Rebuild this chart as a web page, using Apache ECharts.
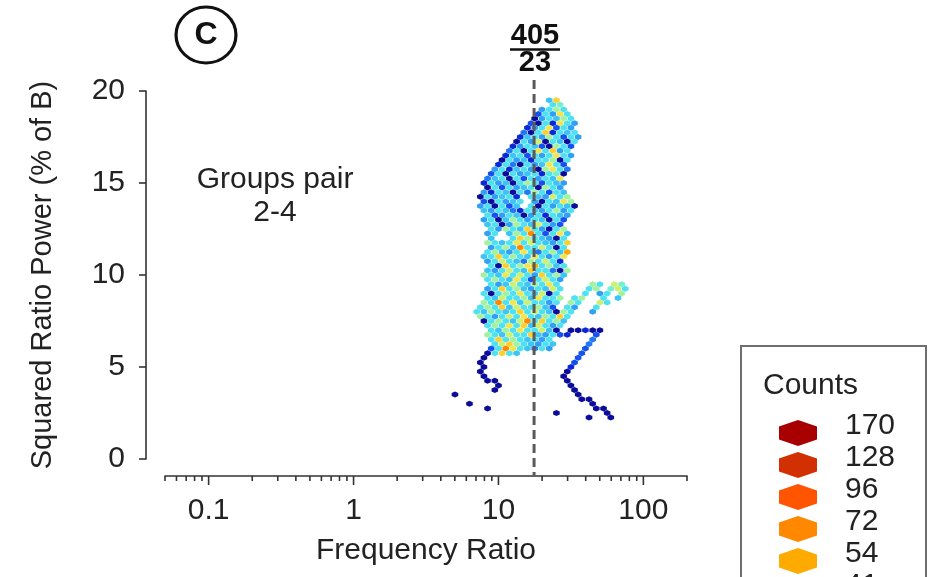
<!DOCTYPE html>
<html>
<head>
<meta charset="utf-8">
<script src="https://cdn.jsdelivr.net/npm/echarts@6/dist/echarts.min.js"></script>
<style>
html,body{margin:0;padding:0;background:#fff;}
#chart{width:935px;height:577px;}
</style>
</head>
<body>
<div id="chart"></div>
<script>
// ---------- data ----------
const yTicks = [0, 5, 10, 15, 20];
const xMajorTicks = [0.1, 1, 10, 100];
const xTickLabels = ['0.1', '1', '10', '100'];
const xMinorTicks = [0.05, 0.06, 0.07, 0.08, 0.09, 0.2, 0.3, 0.4, 0.5, 0.6, 0.7, 0.8, 0.9,
  2, 3, 4, 5, 6, 7, 8, 9, 20, 30, 40, 50, 60, 70, 80, 90, 200];
const refNumerator = 405;
const refDenominator = 23;
const panelLetter = 'C';
const groupLabel = ['Groups pair', '2-4'];
const countLevels = [1, 2, 3, 4, 5, 7, 10, 13, 17, 23, 31, 41, 54, 72, 96, 128, 170];
const countColors = ['#0c0c9a', '#0a28d8', '#1550f0', '#2078f4', '#2fa0f5', '#3cc4f5', '#4ee2f0',
  '#74f0d0', '#a4f2a0', '#cdf070', '#f0e650', '#fcd030', '#ffaa00', '#ff8800', '#ff5500', '#d23000', '#a80000'];
const legendCounts = [170, 128, 96, 72, 54, 41];

// hexbin cells: [frequency ratio, squared ratio power, count]
const hexCells = [
  [22.39,19.5,7],[25.12,19.5,41],
  [23.71,19.25,10],[26.61,19.25,13],
  [19.95,19,5],[22.39,19,10],[25.12,19,17],[28.18,19,10],
  [18.84,18.75,3],[21.13,18.75,10],[23.71,18.75,5],[26.61,18.75,31],[29.85,18.75,10],
  [17.78,18.5,1],[19.95,18.5,5],[22.39,18.5,10],[25.12,18.5,7],[28.18,18.5,17],[31.62,18.5,10],
  [16.79,18.25,3],[18.84,18.25,1],[21.13,18.25,10],[23.71,18.25,2],[26.61,18.25,31],[29.85,18.25,10],[33.50,18.25,5],
  [15.85,18,2],[17.78,18,5],[19.95,18,10],[22.39,18,31],[25.12,18,3],[28.18,18,10],[31.62,18,5],
  [14.96,17.75,4],[16.79,17.75,1],[18.84,17.75,10],[21.13,17.75,41],[23.71,17.75,2],[26.61,17.75,10],[29.85,17.75,7],[33.50,17.75,10],
  [14.13,17.5,2],[15.85,17.5,7],[17.78,17.5,10],[19.95,17.5,5],[22.39,17.5,17],[25.12,17.5,10],[28.18,17.5,3],[31.62,17.5,10],[35.48,17.5,5],
  [13.34,17.25,1],[14.96,17.25,10],[16.79,17.25,5],[18.84,17.25,23],[21.13,17.25,1],[23.71,17.25,10],[26.61,17.25,7],[29.85,17.25,1],[33.50,17.25,10],
  [12.59,17,2],[14.13,17,5],[15.85,17,10],[17.78,17,7],[19.95,17,3],[22.39,17,1],[25.12,17,17],[28.18,17,10],[31.62,17,3],
  [11.89,16.75,4],[13.34,16.75,10],[14.96,16.75,1],[16.79,16.75,10],[18.84,16.75,31],[21.13,16.75,10],[23.71,16.75,41],[26.61,16.75,5],[29.85,16.75,10],
  [11.22,16.5,2],[12.59,16.5,7],[14.13,16.5,10],[15.85,16.5,3],[17.78,16.5,10],[19.95,16.5,5],[22.39,16.5,10],[25.12,16.5,31],[28.18,16.5,10],[31.62,16.5,5],
  [10.59,16.25,1],[11.89,16.25,10],[13.34,16.25,5],[14.96,16.25,7],[16.79,16.25,2],[18.84,16.25,10],[21.13,16.25,10],[23.71,16.25,17],[26.61,16.25,1],[29.85,16.25,10],
  [10.0,16,2],[11.22,16,10],[12.59,16,4],[14.13,16,1],[15.85,16,10],[17.78,16,5],[19.95,16,7],[22.39,16,31],[25.12,16,10],[28.18,16,3],
  [9.44,15.75,5],[10.59,15.75,10],[11.89,15.75,2],[13.34,15.75,7],[14.96,15.75,10],[16.79,15.75,5],[18.84,15.75,1],[21.13,15.75,17],[23.71,15.75,31],[26.61,15.75,10],[29.85,15.75,4],
  [8.91,15.5,3],[10.0,15.5,10],[11.22,15.5,1],[12.59,15.5,10],[14.13,15.5,5],[15.85,15.5,7],[17.78,15.5,10],[19.95,15.5,2],[22.39,15.5,10],[25.12,15.5,13],[28.18,15.5,1],
  [8.41,15.25,4],[9.44,15.25,7],[10.59,15.25,10],[11.89,15.25,1],[13.34,15.25,10],[14.96,15.25,3],[16.79,15.25,10],[18.84,15.25,5],[21.13,15.25,10],[23.71,15.25,7],[26.61,15.25,31],
  [7.94,15,2],[8.91,15,10],[10.0,15,5],[11.22,15,7],[12.59,15,1],[14.13,15,10],[15.85,15,17],[17.78,15,10],[19.95,15,3],[22.39,15,10],[25.12,15,7],[28.18,15,5],
  [8.41,14.75,1],[9.44,14.75,10],[10.59,14.75,3],[11.89,14.75,10],[13.34,14.75,5],[14.96,14.75,7],[16.79,14.75,10],[18.84,14.75,1],[21.13,14.75,17],[23.71,14.75,10],[26.61,14.75,5],
  [7.94,14.5,5],[8.91,14.5,2],[10.0,14.5,10],[11.22,14.5,7],[12.59,14.5,1],[14.13,14.5,10],[15.85,14.5,4],[17.78,14.5,17],[19.95,14.5,10],[22.39,14.5,3],[25.12,14.5,10],[28.18,14.5,7],
  [7.50,14.25,1],[8.41,14.25,10],[9.44,14.25,5],[10.59,14.25,7],[11.89,14.25,10],[13.34,14.25,2],[16.79,14.25,10],[18.84,14.25,7],[21.13,14.25,5],[23.71,14.25,23],[26.61,14.25,10],[29.85,14.25,17],
  [7.94,14,3],[8.91,14,1],[10.0,14,10],[11.22,14,5],[12.59,14,7],[14.13,14,10],[17.78,14,5],[19.95,14,1],[22.39,14,10],[25.12,14,7],[28.18,14,31],[31.62,14,17],
  [7.50,13.75,5],[8.41,13.75,10],[9.44,13.75,1],[10.59,13.75,10],[11.89,13.75,3],[13.34,13.75,7],[16.79,13.75,10],[18.84,13.75,1],[21.13,13.75,10],[23.71,13.75,5],[26.61,13.75,10],[29.85,13.75,7],[33.50,13.75,1],
  [7.94,13.5,7],[8.91,13.5,5],[10.0,13.5,10],[11.22,13.5,7],[12.59,13.5,4],[14.13,13.5,2],[15.85,13.5,10],[17.78,13.5,7],[19.95,13.5,5],[22.39,13.5,10],[25.12,13.5,17],[28.18,13.5,5],[31.62,13.5,10],
  [8.41,13.25,10],[9.44,13.25,3],[10.59,13.25,5],[11.89,13.25,10],[13.34,13.25,7],[14.96,13.25,1],[16.79,13.25,5],[18.84,13.25,10],[21.13,13.25,2],[23.71,13.25,10],[26.61,13.25,7],[29.85,13.25,5],
  [7.94,13,5],[8.91,13,10],[10.0,13,1],[11.22,13,7],[12.59,13,17],[14.13,13,10],[15.85,13,5],[17.78,13,10],[19.95,13,7],[22.39,13,1],[25.12,13,10],[28.18,13,3],
  [8.41,12.75,7],[9.44,12.75,10],[10.59,12.75,1],[11.89,12.75,5],[13.34,12.75,17],[14.96,12.75,10],[16.79,12.75,7],[18.84,12.75,23],[21.13,12.75,10],[23.71,12.75,5],[26.61,12.75,3],
  [8.91,12.5,10],[10.0,12.5,5],[11.22,12.5,17],[12.59,12.5,10],[14.13,12.5,7],[15.85,12.5,41],[17.78,12.5,10],[19.95,12.5,5],[22.39,12.5,1],[25.12,12.5,10],[28.18,12.5,17],
  [8.41,12.25,5],[9.44,12.25,10],[11.89,12.25,7],[13.34,12.25,17],[14.96,12.25,10],[16.79,12.25,72],[18.84,12.25,10],[21.13,12.25,3],[23.71,12.25,10],[26.61,12.25,31],[29.85,12.25,7],
  [8.91,12,7],[12.59,12,10],[14.13,12,41],[15.85,12,17],[17.78,12,10],[19.95,12,7],[22.39,12,5],[25.12,12,1],[28.18,12,10],
  [8.41,11.75,17],[9.44,11.75,10],[10.59,11.75,7],[11.89,11.75,10],[13.34,11.75,31],[14.96,11.75,10],[16.79,11.75,23],[18.84,11.75,10],[21.13,11.75,7],[23.71,11.75,5],[26.61,11.75,10],[29.85,11.75,41],
  [8.91,11.5,5],[10.0,11.5,10],[11.22,11.5,17],[12.59,11.5,7],[14.13,11.5,72],[15.85,11.5,10],[17.78,11.5,10],[19.95,11.5,23],[22.39,11.5,10],[25.12,11.5,1],[28.18,11.5,10],
  [8.41,11.25,10],[9.44,11.25,17],[10.59,11.25,7],[11.89,11.25,5],[13.34,11.25,10],[14.96,11.25,31],[16.79,11.25,10],[18.84,11.25,4],[21.13,11.25,10],[23.71,11.25,17],[26.61,11.25,7],[29.85,11.25,54],
  [7.94,11,7],[8.91,11,10],[10.0,11,41],[11.22,11,10],[12.59,11,17],[14.13,11,10],[15.85,11,7],[17.78,11,31],[19.95,11,10],[22.39,11,5],[25.12,11,10],[28.18,11,31],
  [8.41,10.75,5],[9.44,10.75,10],[10.59,10.75,23],[11.89,10.75,10],[13.34,10.75,7],[14.96,10.75,4],[16.79,10.75,17],[18.84,10.75,10],[21.13,10.75,23],[23.71,10.75,10],[26.61,10.75,2],
  [8.91,10.5,10],[10.0,10.5,1],[11.22,10.5,41],[12.59,10.5,10],[14.13,10.5,17],[15.85,10.5,31],[17.78,10.5,54],[19.95,10.5,10],[22.39,10.5,17],[25.12,10.5,7],[28.18,10.5,10],
  [8.41,10.25,7],[9.44,10.25,5],[10.59,10.25,10],[11.89,10.25,23],[13.34,10.25,10],[14.96,10.25,7],[16.79,10.25,41],[18.84,10.25,10],[21.13,10.25,10],[23.71,10.25,4],[26.61,10.25,1],[29.85,10.25,17],
  [7.94,10,17],[8.91,10,10],[10.0,10,7],[11.22,10,31],[12.59,10,10],[14.13,10,23],[15.85,10,10],[17.78,10,5],[19.95,10,41],[22.39,10,10],[25.12,10,17],[28.18,10,7],
  [8.41,9.75,10],[9.44,9.75,17],[10.59,9.75,10],[11.89,9.75,7],[13.34,9.75,31],[14.96,9.75,10],[16.79,9.75,3],[18.84,9.75,10],[21.13,9.75,23],[23.71,9.75,10],[26.61,9.75,5],
  [8.91,9.5,10],[10.0,9.5,5],[11.22,9.5,7],[12.59,9.5,23],[14.13,9.5,10],[15.85,9.5,7],[17.78,9.5,17],[19.95,9.5,10],[22.39,9.5,31],[25.12,9.5,10],[44.67,9.5,17],[50.12,9.5,10],[63.10,9.5,23],[70.79,9.5,13],
  [8.41,9.25,5],[9.44,9.25,10],[10.59,9.25,41],[11.89,9.25,10],[13.34,9.25,17],[14.96,9.25,7],[16.79,9.25,5],[18.84,9.25,10],[21.13,9.25,7],[23.71,9.25,23],[26.61,9.25,10],[42.17,9.25,10],[47.32,9.25,17],[59.57,9.25,13],[66.83,9.25,23],[74.99,9.25,10],
  [7.94,9,10],[8.91,9,1],[10.0,9,10],[11.22,9,17],[12.59,9,10],[14.13,9,31],[15.85,9,10],[17.78,9,7],[19.95,9,23],[22.39,9,1],[25.12,9,10],[39.81,9,10],[50.12,9,5],[56.23,9,10],[70.79,9,17],
  [8.41,8.75,10],[9.44,8.75,7],[10.59,8.75,23],[11.89,8.75,10],[13.34,8.75,10],[14.96,8.75,17],[16.79,8.75,7],[18.84,8.75,31],[21.13,8.75,10],[23.71,8.75,10],[26.61,8.75,17],[33.50,8.75,10],[37.58,8.75,17],[53.09,8.75,10],[66.83,8.75,7],
  [7.94,8.5,17],[8.91,8.5,10],[10.0,8.5,72],[11.22,8.5,10],[12.59,8.5,31],[14.13,8.5,7],[15.85,8.5,23],[17.78,8.5,10],[19.95,8.5,10],[22.39,8.5,5],[25.12,8.5,10],[31.62,8.5,17],[35.48,8.5,10],[50.12,8.5,23],[56.23,8.5,10],
  [7.50,8.25,10],[8.41,8.25,17],[9.44,8.25,10],[10.59,8.25,41],[11.89,8.25,7],[13.34,8.25,23],[14.96,8.25,10],[16.79,8.25,10],[18.84,8.25,17],[21.13,8.25,7],[23.71,8.25,3],[29.85,8.25,10],[33.50,8.25,5],[47.32,8.25,10],
  [7.08,8,10],[7.94,8,7],[8.91,8,17],[10.0,8,10],[11.22,8,7],[12.59,8,10],[14.13,8,41],[15.85,8,10],[17.78,8,23],[19.95,8,10],[22.39,8,7],[25.12,8,1],[28.18,8,17],[31.62,8,10],[44.67,8,5],
  [7.50,7.75,17],[8.41,7.75,10],[9.44,7.75,5],[10.59,7.75,10],[11.89,7.75,23],[13.34,7.75,10],[14.96,7.75,31],[16.79,7.75,10],[18.84,7.75,7],[21.13,7.75,17],[23.71,7.75,10],[26.61,7.75,41],[29.85,7.75,10],
  [7.94,7.5,1],[8.91,7.5,10],[10.0,7.5,17],[11.22,7.5,10],[12.59,7.5,7],[14.13,7.5,23],[15.85,7.5,72],[17.78,7.5,10],[19.95,7.5,41],[22.39,7.5,10],[25.12,7.5,17],[28.18,7.5,7],
  [8.41,7.25,10],[9.44,7.25,17],[10.59,7.25,10],[11.89,7.25,31],[13.34,7.25,10],[14.96,7.25,41],[16.79,7.25,7],[18.84,7.25,23],[21.13,7.25,10],[23.71,7.25,5],[26.61,7.25,10],
  [8.91,7,10],[10.0,7,7],[11.22,7,17],[12.59,7,10],[14.13,7,31],[15.85,7,10],[17.78,7,10],[19.95,7,23],[22.39,7,7],[25.12,7,1],[31.62,7,1],[35.48,7,1],[39.81,7,2],[44.67,7,1],[50.12,7,1],
  [8.41,6.75,17],[9.44,6.75,10],[10.59,6.75,7],[11.89,6.75,23],[13.34,6.75,10],[14.96,6.75,10],[16.79,6.75,41],[18.84,6.75,7],[21.13,6.75,5],[23.71,6.75,10],[26.61,6.75,3],[29.85,6.75,2],[47.32,6.75,3],
  [8.91,6.5,10],[10.0,6.5,41],[11.22,6.5,10],[12.59,6.5,17],[14.13,6.5,10],[15.85,6.5,7],[17.78,6.5,10],[19.95,6.5,5],[22.39,6.5,10],[44.67,6.5,4],
  [9.44,6.25,10],[10.59,6.25,23],[11.89,6.25,41],[13.34,6.25,17],[14.96,6.25,10],[16.79,6.25,7],[18.84,6.25,5],[21.13,6.25,10],[23.71,6.25,7],[42.17,6.25,4],
  [8.91,6,3],[10.0,6,10],[11.22,6,72],[12.59,6,31],[14.13,6,10],[15.85,6,7],[17.78,6,4],[19.95,6,10],[22.39,6,5],[39.81,6,3],
  [8.41,5.75,1],[9.44,5.75,10],[10.59,5.75,41],[11.89,5.75,10],[13.34,5.75,7],[37.58,5.75,3],
  [7.94,5.5,1],[35.48,5.5,3],
  [7.50,5.25,1],[33.50,5.25,3],
  [7.94,5,1],[31.62,5,2],
  [7.50,4.75,1],[29.85,4.75,1],
  [7.94,4.5,1],[28.18,4.5,1],
  [8.41,4.25,1],[9.44,4.25,1],[29.85,4.25,1],
  [10.0,4,1],[31.62,4,1],
  [9.44,3.75,1],[33.50,3.75,1],
  [5.01,3.5,1],[35.48,3.5,1],
  [37.58,3.25,1],[42.17,3.25,1],
  [6.31,3,1],[44.67,3,1],
  [8.41,2.75,1],[47.32,2.75,1],[53.09,2.75,1],
  [25.12,2.5,1],[56.23,2.5,1],
  [42.17,2.25,1],[59.57,2.25,1]
];

// ---------- helpers ----------
const FONT = '"Liberation Sans", Arial, Helvetica, sans-serif';
const INK = '#222';
function colorOf(n) {
  let idx = 0;
  for (let i = 0; i < countLevels.length; i++) if (n >= countLevels[i]) idx = i;
  return countColors[idx];
}
function hexPoints(cx, cy, hw, r) {
  return [[cx, cy - r], [cx + hw, cy - r / 2], [cx + hw, cy + r / 2], [cx, cy + r], [cx - hw, cy + r / 2], [cx - hw, cy - r / 2]];
}
const X_OFFSET = 17;
const refRatio = refNumerator / refDenominator;

const tickData = xMajorTicks.map(v => [v, 0, 1]).concat(xMinorTicks.map(v => [v, 0, 0]));

// legend graphics
const legendX = 741, legendY = 346;
const legendChildren = [
  { type: 'rect', shape: { x: legendX, y: legendY, width: 185, height: 300 },
    style: { fill: '#fff', stroke: '#6e6e6e', lineWidth: 2 } },
  { type: 'text', x: 763, y: 386, style: { text: 'Counts', font: '30px ' + FONT, fill: INK, textVerticalAlign: 'middle' } }
];
legendCounts.forEach((c, i) => {
  const cy = 433 + i * 32;
  legendChildren.push({ type: 'polygon', shape: { points: hexPoints(798, cy, 19, 13) },
    style: { fill: colorOf(c) } });
  legendChildren.push({ type: 'text', x: 845, y: cy - 7,
    style: { text: String(c), font: '30px ' + FONT, fill: INK, textVerticalAlign: 'middle' } });
});

const chart = echarts.init(document.getElementById('chart'), null, { renderer: 'canvas' });
chart.setOption({
  animation: false,
  backgroundColor: '#fff',
  grid: { left: 165, right: 248, top: 91, bottom: 118, containLabel: false },
  xAxis: {
    type: 'log', logBase: 10, min: 0.05, max: 200, offset: X_OFFSET,
    axisLine: { show: true, onZero: false, lineStyle: { color: '#333', width: 1.6 } },
    axisTick: { show: false },
    splitLine: { show: false },
    axisLabel: {
      fontSize: 30, fontFamily: FONT, color: INK, margin: 20,
      showMinLabel: false, showMaxLabel: false,
      formatter: function (v) {
        const i = xMajorTicks.findIndex(t => Math.abs(Math.log10(v) - Math.log10(t)) < 1e-6);
        return i >= 0 ? xTickLabels[i] : '';
      }
    },
    name: 'Frequency Ratio', nameLocation: 'middle', nameGap: 60,
    nameTextStyle: { fontSize: 30, fontFamily: FONT, color: INK }
  },
  yAxis: {
    type: 'value', min: yTicks[0], max: yTicks[yTicks.length - 1], interval: 5, offset: 19,
    axisLine: { show: true, onZero: false, lineStyle: { color: '#333', width: 1.6 } },
    axisTick: { show: true, length: 7, lineStyle: { color: '#333', width: 1.6 } },
    splitLine: { show: false },
    axisLabel: { fontSize: 30, fontFamily: FONT, color: INK, margin: 21 },
    name: 'Squared Ratio Power (% of B)', nameLocation: 'middle', nameGap: 89,
    nameTextStyle: { fontSize: 29, fontFamily: FONT, color: INK }
  },
  series: [
    {
      type: 'custom', name: 'hex', silent: true, clip: false,
      data: hexCells,
      encode: { x: 0, y: 1 },
      renderItem: function (params, api) {
        const c = api.coord([api.value(0), api.value(1)]);
        const col = colorOf(api.value(2));
        return { type: 'polygon', shape: { points: hexPoints(c[0], c[1], 3.3, 3.0) },
          style: { fill: col } };
      }
    },
    {
      type: 'custom', name: 'xticks', silent: true, clip: false,
      data: tickData,
      encode: { x: 0, y: 1 },
      renderItem: function (params, api) {
        const c = api.coord([api.value(0), 0]);
        const y0 = c[1] + X_OFFSET;
        const len = api.value(2) ? 9 : 5;
        return { type: 'line', shape: { x1: c[0], y1: y0, x2: c[0], y2: y0 + len },
          style: { stroke: '#333', lineWidth: 1.6 } };
      }
    },
    {
      type: 'custom', name: 'ref', silent: true, clip: false, z: 5,
      data: [[refRatio, 20]],
      encode: { x: 0, y: 1 },
      renderItem: function (params, api) {
        const top = api.coord([api.value(0), 20]);
        const bot = api.coord([api.value(0), 0]);
        return { type: 'line', shape: { x1: top[0], y1: top[1] - 11, x2: bot[0], y2: bot[1] + X_OFFSET },
          style: { stroke: '#5a5a5a', lineWidth: 3, lineDash: [9, 5] } };
      }
    }
  ],
  graphic: [
    { type: 'circle', shape: { cx: 0, cy: 0, r: 28 }, x: 206, y: 35, scaleX: 1.07,
      style: { fill: 'none', stroke: '#111', lineWidth: 3 } },
    { type: 'text', x: 206, y: 35,
      style: { text: panelLetter, font: 'bold 32px ' + FONT, fill: '#111', textAlign: 'center', textVerticalAlign: 'middle' } },
    { type: 'text', x: 535, y: 36,
      style: { text: String(refNumerator), font: 'bold 29px ' + FONT, fill: '#111', textAlign: 'center', textVerticalAlign: 'middle' } },
    { type: 'line', shape: { x1: 510, y1: 49.5, x2: 560, y2: 49.5 }, style: { stroke: '#111', lineWidth: 2.5 } },
    { type: 'text', x: 535, y: 63,
      style: { text: String(refDenominator), font: 'bold 29px ' + FONT, fill: '#111', textAlign: 'center', textVerticalAlign: 'middle' } },
    { type: 'text', x: 275, y: 180,
      style: { text: groupLabel[0], font: '30px ' + FONT, fill: INK, textAlign: 'center', textVerticalAlign: 'middle' } },
    { type: 'text', x: 275, y: 213,
      style: { text: groupLabel[1], font: '30px ' + FONT, fill: INK, textAlign: 'center', textVerticalAlign: 'middle' } },
    { type: 'group', children: legendChildren }
  ]
});
</script>
</body>
</html>
